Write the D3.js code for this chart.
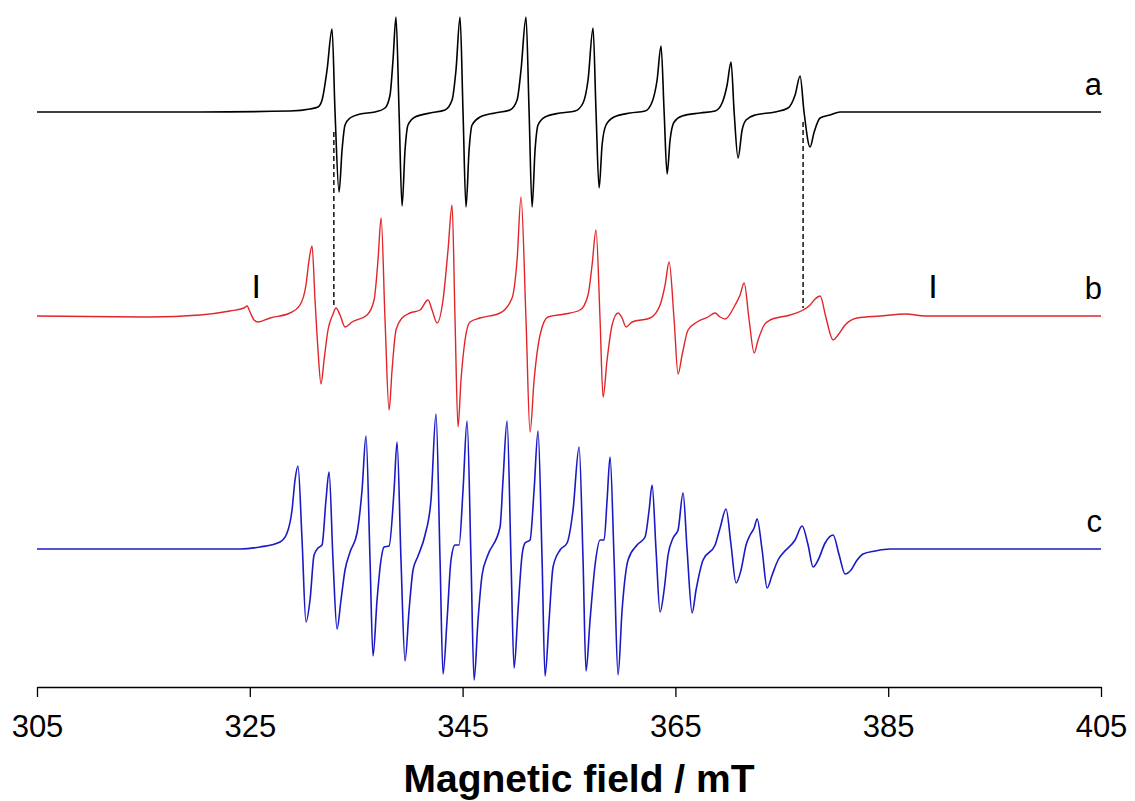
<!DOCTYPE html>
<html>
<head>
<meta charset="utf-8">
<script src="https://cdn.jsdelivr.net/npm/d3@7"></script>
<style>
  html, body { margin: 0; padding: 0; background: #fff; overflow: hidden; }
  svg { display: block; }
  text { font-family: Arial, "Liberation Sans", sans-serif; }
</style>
</head>
<body>
<div id="chart"></div>
<script>
// spectrum a (black), [field mT, intensity a.u.]
const spectrumA = [
  [305, 0], [320.32, 0], [328.78, 1], [330.66, 3], [331.41, 5], [331.79, 12], [332.26, 42], [332.73, 83],
  [333.01, 0], [333.39, -80], [333.67, -38], [333.95, -13], [334.42, -6], [335.36, -2], [336.77, 0],
  [337.71, 4], [338.18, 17], [338.46, 52], [338.74, 95], [339.03, 0], [339.31, -94], [339.59, -38],
  [339.87, -13], [340.53, -5], [341.94, -1], [343.35, 2], [344.01, 12], [344.38, 42], [344.76, 95],
  [345.04, 0], [345.32, -95], [345.61, -38], [345.89, -13], [346.64, -5], [348.05, -1], [349.46, 2],
  [350.12, 12], [350.49, 42], [350.96, 95], [351.25, 0], [351.53, -95], [351.81, -38], [352.09, -13],
  [352.75, -5], [354.16, -1], [355.57, 1], [356.32, 9], [356.79, 32], [357.26, 84], [357.54, 0],
  [357.83, -76], [358.11, -33], [358.48, -13], [359.24, -5], [360.74, -1], [362.15, 1], [362.81, 10],
  [363.28, 32], [363.65, 66], [363.94, 0], [364.22, -62], [364.50, -28], [364.88, -10], [365.63, -4],
  [367.32, -1], [368.73, 1], [369.39, 9], [369.86, 27], [370.23, 50], [370.52, 0], [370.89, -46],
  [371.27, -18], [371.64, -8], [372.49, -3], [374.37, 0], [375.59, 4], [376.25, 17], [376.72, 36],
  [377.09, 0], [377.66, -35], [378.04, -20], [378.60, -6], [379.54, -3], [380.48, 0], [405, 0]
];

// spectrum b (red)
const spectrumB = [
  [305, 0], [315.62, -1], [320.32, 1], [323.14, 5], [324.46, 8], [324.74, 10], [325.02, 4], [325.40, -4],
  [325.77, -6], [326.90, -2], [328.78, 3], [329.72, 11], [330.28, 31], [330.57, 56], [330.85, 70],
  [331.13, 16], [331.41, -34], [331.69, -68], [331.98, -44], [332.35, -14], [332.82, 2], [333.10, 8],
  [333.48, 1], [333.95, -11], [334.61, -6], [336.02, 1], [336.68, 16], [337.05, 56], [337.34, 98],
  [337.71, -4], [338.09, -94], [338.37, -54], [338.74, -14], [339.31, -2], [340.06, 3], [341.00, 6],
  [341.75, 16], [342.13, 6], [342.60, -7], [343.16, 16], [343.63, 66], [344.01, 111], [344.29, -4],
  [344.57, -111], [344.85, -64], [345.23, -24], [345.70, -6], [346.64, -2], [348.52, 3], [349.65, 18],
  [350.12, 56], [350.49, 119], [350.96, -4], [351.34, -116], [351.72, -64], [352.28, -19], [353.03, -1],
  [354.63, 2], [356.04, 6], [356.79, 21], [357.17, 51], [357.54, 86], [357.92, -4], [358.20, -81],
  [358.58, -44], [359.05, -9], [359.61, 3], [359.99, -2], [360.36, -11], [360.93, -6], [362.62, -2],
  [363.56, 11], [364.03, 31], [364.41, 54], [364.88, -4], [365.25, -58], [365.63, -39], [366.19, -14],
  [367.04, -6], [368.07, -1], [368.73, 3], [369.20, -1], [369.67, -3], [370.61, 11], [371.08, 21],
  [371.46, 33], [371.93, -4], [372.40, -37], [372.77, -24], [373.34, -9], [373.90, -4], [375.78, 1],
  [377.00, 6], [377.66, 11], [378.13, 17], [378.60, 20], [379.16, -2], [379.82, -24], [380.29, -19],
  [380.95, -9], [382.08, -2], [384.24, 0], [386.68, 2], [388.47, 0], [405, 0]
];

// spectrum c (blue)
const spectrumC = [
  [305, 0], [324.08, 0], [325.96, 2], [327.84, 7], [328.50, 16], [328.97, 39], [329.25, 69], [329.53, 83],
  [329.91, 9], [330.28, -73], [330.66, -51], [331.04, -6], [331.41, 1], [331.79, 4], [332.16, 49],
  [332.45, 77], [332.82, -11], [333.20, -80], [333.57, -51], [333.95, -21], [334.42, -3], [335.08, 16],
  [335.55, 59], [335.92, 113], [336.30, -11], [336.58, -107], [336.96, -51], [337.33, -11], [337.62, 2],
  [338.09, 3], [338.56, 59], [338.84, 107], [339.21, -11], [339.59, -112], [339.97, -61], [340.34, -21],
  [340.81, -7], [341.47, 14], [342.03, 49], [342.50, 135], [342.88, -11], [343.16, -125], [343.54, -71],
  [343.91, -11], [344.29, 4], [344.67, 4], [345.04, 59], [345.42, 128], [345.79, -11], [346.08, -131],
  [346.45, -71], [346.83, -26], [347.30, -8], [348.52, 22], [348.80, 69], [349.18, 128], [349.55, -11],
  [349.84, -119], [350.21, -61], [350.59, -6], [350.87, 6], [351.34, 9], [351.72, 59], [352.09, 118],
  [352.47, -11], [352.75, -127], [353.13, -71], [353.50, -18], [354.16, -1], [354.82, 6], [355.38, 39],
  [355.95, 102], [356.32, -11], [356.60, -122], [356.98, -71], [357.45, -16], [357.92, 9], [358.30, 9],
  [358.58, 49], [358.86, 92], [359.24, -11], [359.61, -126], [359.99, -61], [360.55, -11], [361.40, 4],
  [362.15, 12], [362.53, 39], [362.81, 64], [363.18, -1], [363.56, -63], [363.94, -41], [364.31, -6],
  [364.78, 11], [365.25, 19], [365.72, 56], [366.10, -1], [366.57, -64], [366.94, -41], [367.60, -11],
  [368.73, 4], [369.20, 21], [369.76, 40], [370.23, 4], [370.70, -34], [371.17, -21], [371.64, 4],
  [372.02, 14], [372.40, 21], [372.68, 30], [373.15, -1], [373.62, -39], [374.09, -26], [374.65, -11],
  [375.12, -4], [376.25, 9], [376.91, 23], [377.47, 4], [377.94, -18], [378.41, -11], [379.07, 6],
  [379.82, 14], [380.39, -6], [380.95, -25], [381.51, -21], [382.08, -11], [382.64, -5], [383.77, -2],
  [385.18, 0], [405, 0]
];

const traceNames = ["a", "b", "c"];
const traceOffsets = [574, 370, 137]; // vertical offset of each trace, a.u.
const traceColors = ["#000000", "#e0262a", "#1a1ac4"];
const traceWidths = [1.6, 1.4, 1.6];

// impurity marks "I" on trace b
const impurityFields = [325.6, 389.2];

// dashed guide lines (field, from, to in a.u.)
const guideFields = [332.9, 377.0];
const guideTop = [554, 564];
const guideBottom = [380, 378];

const tickValues = [305, 325, 345, 365, 385, 405];

const margin = { top: 0, right: 34, bottom: 115, left: 37 };
const width = 1135, height = 801;
const innerWidth = width - margin.left - margin.right;
const innerHeight = height - margin.top - margin.bottom;

const x = d3.scaleLinear([305, 405], [0, innerWidth]);
const y = d3.scaleLinear([0, innerHeight], [innerHeight, 0]);

const svg = d3.select("#chart")
  .append("svg")
  .attr("width", width)
  .attr("height", height);

const g = svg.append("g").attr("transform", `translate(${margin.left},${margin.top})`);

// dashed lines between a and b
guideFields.forEach((f, i) => {
  g.append("line")
    .attr("x1", x(f)).attr("x2", x(f))
    .attr("y1", y(guideTop[i])).attr("y2", y(guideBottom[i]))
    .attr("stroke", "#000")
    .attr("stroke-width", 1.4)
    .attr("stroke-dasharray", "5,3");
});

const spectra = [spectrumA, spectrumB, spectrumC];

spectra.forEach((data, i) => {
  const line = d3.line()
    .curve(d3.curveMonotoneX)
    .x((d) => x(d[0]))
    .y((d) => y(d[1] + traceOffsets[i]));

  g.append("path")
    .attr("d", line(data))
    .attr("fill", "none")
    .attr("stroke", traceColors[i])
    .attr("stroke-width", traceWidths[i])
    .attr("stroke-linejoin", "round");

  g.append("text")
    .attr("x", innerWidth + 1)
    .attr("y", y(traceOffsets[i]) - 17)
    .attr("text-anchor", "end")
    .attr("font-size", "31px")
    .attr("fill", "#000")
    .text(traceNames[i]);
});

impurityFields.forEach((f) => {
  g.append("text")
    .attr("x", x(f))
    .attr("y", y(traceOffsets[1]) - 18)
    .attr("text-anchor", "middle")
    .attr("font-size", "34px")
    .attr("fill", "#000")
    .text("I");
});

// x axis
const xAxis = g.append("g")
  .attr("transform", `translate(0,${innerHeight + 1})`)
  .call(d3.axisBottom(x).tickValues(tickValues).tickSize(10).tickSizeOuter(0).tickFormat(d3.format("d")));

xAxis.select(".domain").attr("stroke", "#000").attr("stroke-width", 1.3);
xAxis.selectAll(".tick line").attr("stroke", "#000").attr("stroke-width", 1.3);
xAxis.selectAll(".tick text")
  .attr("font-size", "31px")
  .attr("font-family", "Arial, 'Liberation Sans', sans-serif")
  .attr("fill", "#000")
  .attr("dy", null)
  .attr("y", 50);

svg.append("text")
  .attr("x", 579)
  .attr("y", 792)
  .attr("text-anchor", "middle")
  .attr("font-size", "39px")
  .attr("font-weight", "bold")
  .attr("fill", "#000")
  .text("Magnetic field / mT");
</script>
</body>
</html>
